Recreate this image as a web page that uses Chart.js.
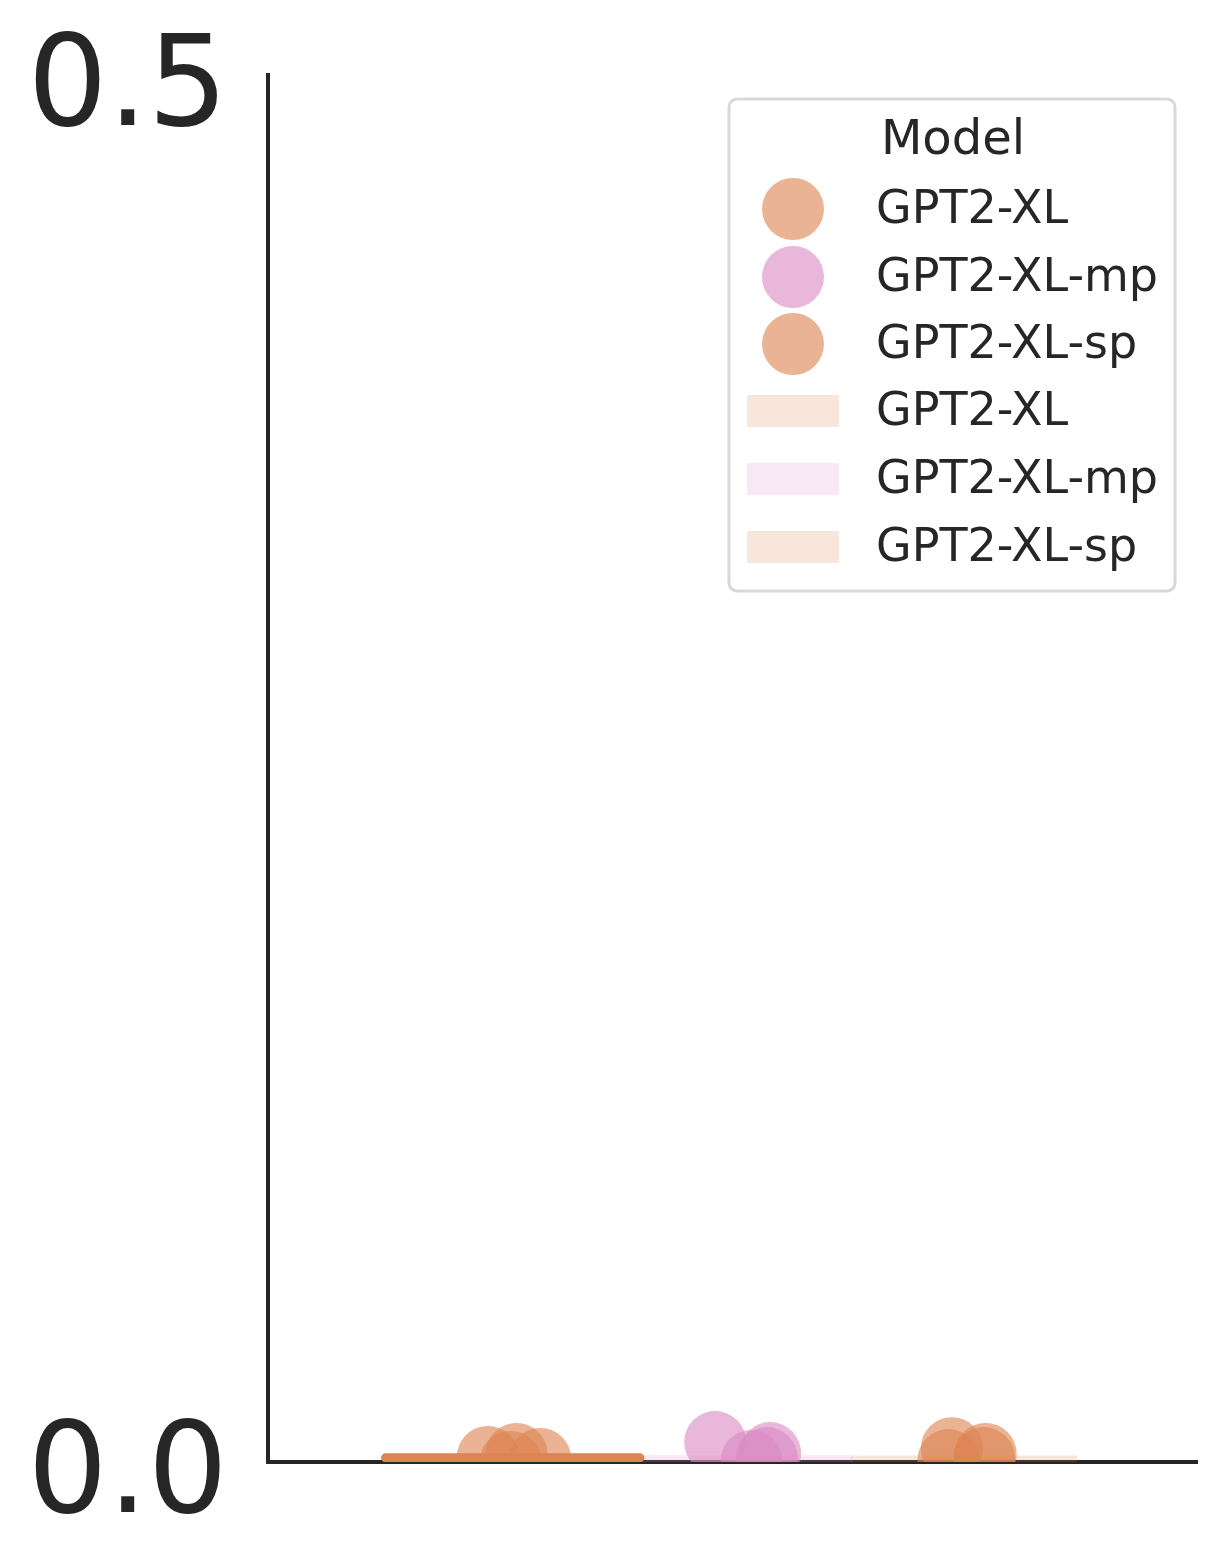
<!DOCTYPE html>
<html>
<head>
<meta charset="utf-8">
<script src="https://cdn.jsdelivr.net/npm/chart.js@4/dist/chart.umd.min.js"></script>
<style>
  html, body { margin: 0; padding: 0; background: #ffffff; }
  canvas { display: block; }
</style>
</head>
<body>
<canvas id="c" width="1228" height="1566"></canvas>
<script>
// ---- data ----
const models = ['GPT2-XL', 'GPT2-XL-mp', 'GPT2-XL-sp'];
const barPositions = [-0.2665, 0, 0.2665];       // dodged hue offsets within the single category
const barMeans = [0.0023, 0.0023, 0.0022];
const yTicks = [0.0, 0.5];
// individual (jittered) observations per model
const xlJitter = [-0.297, -0.263, -0.235, -0.270];
const xlValues = [0.0018, 0.0029, 0.0011, 0.0000];
const mpJitter = [-0.028, 0.037, 0.015, 0.033];
const mpValues = [0.0072, 0.0032, 0.0004, 0.0014];
const spJitter = [0.252, 0.292, 0.248, 0.290];
const spValues = [0.0050, 0.0029, 0.0007, 0.0014];
// solid orange span drawn over the first bar
const lineX = [-0.418, -0.117];
const lineY = [0.0015, 0.0015];

// ---- style ----
const ORANGE = [221, 132, 82];
const PINK = [218, 139, 195];
const rgba = (c, a) => `rgba(${c[0]},${c[1]},${c[2]},${a})`;
const modelColors = [ORANGE, PINK, ORANGE];
const TEXT = '#262626';
const FONT = '"DejaVu Sans", sans-serif';

const pts = (xs, ys) => xs.map((x, i) => ({ x: x, y: ys[i] }));

const scatterSets = [
  { label: models[0], data: pts(xlJitter, xlValues), color: modelColors[0] },
  { label: models[1], data: pts(mpJitter, mpValues), color: modelColors[1] },
  { label: models[2], data: pts(spJitter, spValues), color: modelColors[2] }
].map(s => ({
  type: 'scatter', label: s.label, data: s.data,
  backgroundColor: rgba(s.color, 0.62), borderWidth: 0,
  pointRadius: 31, pointHoverRadius: 31, clip: 0, order: 0
}));

const lineSet = {
  type: 'line', label: 'span', data: pts(lineX, lineY),
  borderColor: rgba(ORANGE, 1), borderWidth: 9, borderCapStyle: 'round',
  pointRadius: 0, clip: 0, order: 1, fill: false
};

const barSet = {
  type: 'bar', label: 'bars',
  data: pts(barPositions, barMeans),
  backgroundColor: modelColors.map(c => rgba(c, 0.2)),
  borderWidth: 0, barThickness: 226, clip: 0, order: 2
};

const legendPlugin = {
  id: 'boxLegend',
  afterDraw(chart) {
    const ctx = chart.ctx;
    const x0 = 729, y0 = 99, w = 446, h = 492, r = 8;
    ctx.save();
    ctx.beginPath();
    ctx.roundRect(x0, y0, w, h, r);
    ctx.fillStyle = 'rgba(255,255,255,0.8)';
    ctx.fill();
    ctx.lineWidth = 3;
    ctx.strokeStyle = '#d9d9d9';
    ctx.stroke();
    ctx.fillStyle = TEXT;
    ctx.font = `48px ${FONT}`;
    ctx.textBaseline = 'middle';
    ctx.textAlign = 'center';
    ctx.fillText('Model', x0 + w / 2 + 1, 142);
    ctx.textAlign = 'left';
    ctx.font = `46px ${FONT}`;
    const rowY = [209, 277, 344, 411, 479, 547];
    models.forEach((m, i) => {
      const y = rowY[i];
      ctx.fillStyle = rgba(modelColors[i], 0.62);
      ctx.beginPath();
      ctx.arc(793, y, 31, 0, Math.PI * 2);
      ctx.fill();
      ctx.fillStyle = TEXT;
      ctx.fillText(m, 876, y + 2);
    });
    models.forEach((m, i) => {
      const y = rowY[i + 3];
      ctx.fillStyle = rgba(modelColors[i], 0.2);
      ctx.fillRect(747, y - 16, 92, 32);
      ctx.fillStyle = TEXT;
      ctx.fillText(m, 876, y + 2);
    });
    ctx.restore();
  }
};

new Chart(document.getElementById('c'), {
  type: 'bar',
  data: { datasets: [...scatterSets, lineSet, barSet] },
  options: {
    responsive: false,
    animation: false,
    devicePixelRatio: 1,
    layout: { padding: { left: 0, top: 75, right: 28, bottom: 0 } },
    plugins: { legend: { display: false }, tooltip: { enabled: false } },
    scales: {
      x: {
        type: 'linear', min: -0.557, max: 0.542, offset: false,
        grid: { display: false, drawTicks: false },
        ticks: { display: false },
        border: { display: true, color: TEXT, width: 4 },
        afterFit(scale) {
          scale.height = 104;
          scale.paddingLeft = 0; scale.paddingRight = 0;
        }
      },
      y: {
        min: 0, max: 0.5,
        afterBuildTicks(scale) { scale.ticks = yTicks.map(v => ({ value: v })); },
        grid: { display: false, drawTicks: false },
        border: { display: true, color: TEXT, width: 4 },
        ticks: {
          padding: 40, color: TEXT, labelOffset: 17,
          font: { family: FONT, size: 126 },
          callback: v => v.toFixed(1)
        },
        afterFit(scale) {
          scale.width = 268;
          scale.paddingTop = 0; scale.paddingBottom = 0;
        }
      }
    }
  },
  plugins: [legendPlugin]
});
</script>
</body>
</html>
